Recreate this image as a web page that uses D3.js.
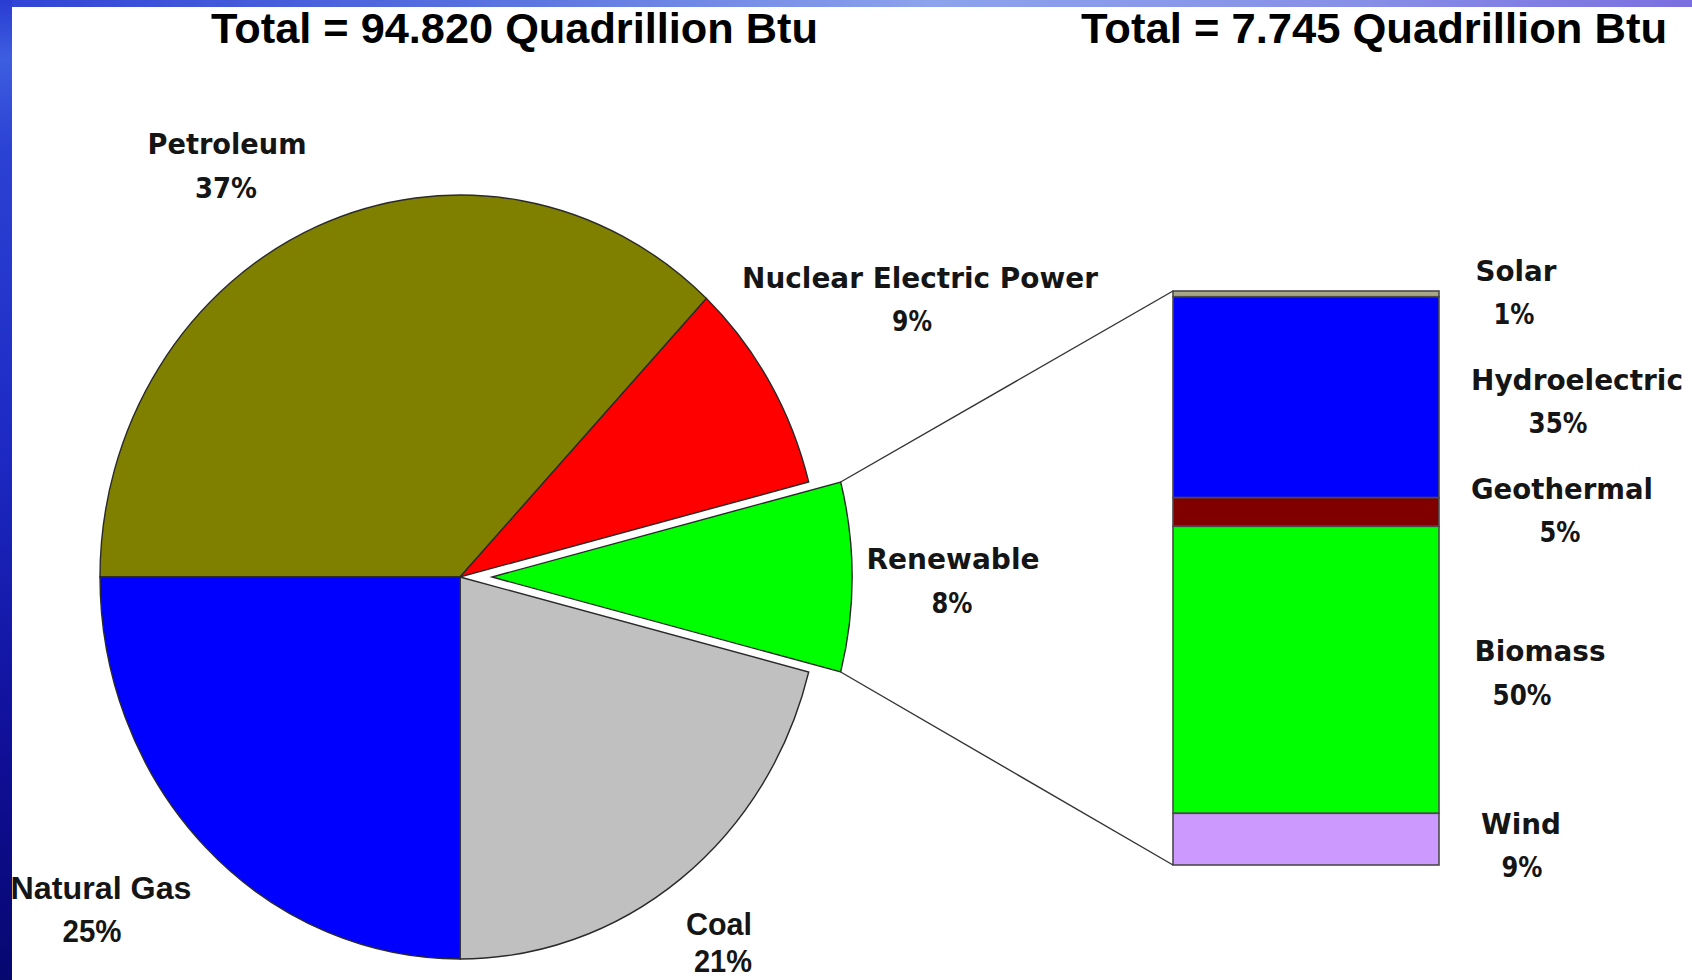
<!DOCTYPE html>
<html><head><meta charset="utf-8">
<script src="https://cdn.jsdelivr.net/npm/d3@7"></script>
<style>html,body{margin:0;padding:0;background:#fff;overflow:hidden}</style>
</head><body>
<svg id="c" width="1692" height="980"></svg>
<script>
// ---- data ----
const energySources = ["Petroleum", "Nuclear Electric Power", "Renewable", "Coal", "Natural Gas"];
const energyShares = [37, 9, 8, 21, 25];
const energyColors = ["#808000", "#ff0000", "#00ff00", "#c0c0c0", "#0000ff"];
const renewableSources = ["Solar", "Hydroelectric", "Geothermal", "Biomass", "Wind"];
const renewableShares = [1, 35, 5, 50, 9];
const renewableColors = ["#a8a888", "#0000ff", "#800000", "#00ff00", "#cc99ff"];
const titles = ["Total = 94.820 Quadrillion Btu", "Total = 7.745 Quadrillion Btu"];

// ---- layout (positions only) ----
const pieLabelPos = [
  {x: 227, y: 154, w: 159, px: 226, py: 198, pw: 62, narrow: false},
  {x: 920, y: 288, w: 356, px: 912, py: 331, pw: 40, narrow: false},
  {x: 953, y: 569, w: 173, px: 952, py: 613, pw: 41, narrow: false},
  {x: 719, y: 935, w: 66, px: 723, py: 972, pw: 58, narrow: true},
  {x: 101, y: 899, w: 181, px: 92, py: 942, pw: 59, narrow: true}
];
const barLabelPos = [
  {x: 1516, y: 281, w: 81, px: 1514, py: 324, pw: 41},
  {x: 1577, y: 390, w: 212, px: 1558, py: 433, pw: 59},
  {x: 1562, y: 499, w: 182, px: 1560, py: 542, pw: 41},
  {x: 1540, y: 661, w: 131, px: 1522, py: 705, pw: 59},
  {x: 1521, y: 834, w: 80, px: 1522, py: 877, pw: 41}
];

const svg = d3.select("#c");
const W = 1692, H = 980;

// ---- frame background ----
const defs = svg.append("defs");
const gTop = defs.append("linearGradient").attr("id", "gTop").attr("x1", 0).attr("x2", 1).attr("y1", 0).attr("y2", 0);
[[0, "#3043d6"], [0.3, "#5a74e0"], [0.55, "#8da3ec"], [0.8, "#8790e6"], [1, "#7b6ee0"]]
  .forEach(([o, c]) => gTop.append("stop").attr("offset", o).attr("stop-color", c));
const gLeft = defs.append("linearGradient").attr("id", "gLeft").attr("x1", 0).attr("x2", 0).attr("y1", 0).attr("y2", 1);
[[0, "#2a3cd2"], [0.06, "#3d5ee0"], [0.15, "#2c42d4"], [0.45, "#1d2ac4"], [0.75, "#10109a"], [1, "#070770"]]
  .forEach(([o, c]) => gLeft.append("stop").attr("offset", o).attr("stop-color", c));
svg.append("rect").attr("x", 0).attr("y", 0).attr("width", W).attr("height", H).attr("fill", "#ffffff");

// ---- titles ----
const titleX = [211, 1081];
const titleW = [607, 586];
svg.selectAll("text.title").data(titles).join("text")
  .attr("class", "title")
  .attr("x", (d, i) => titleX[i]).attr("y", 43)
  .attr("textLength", (d, i) => titleW[i]).attr("lengthAdjust", "spacingAndGlyphs")
  .attr("font-family", "'Liberation Sans', Arial, sans-serif")
  .attr("font-weight", "bold").attr("font-size", 43).attr("fill", "#000")
  .text(d => d);

// ---- pie ----
const cx = 460, cy = 577, R = 360, ky = 382 / 360, explode = 32;
const pie = d3.pie().sort(null).startAngle(-Math.PI / 2).endAngle(3 * Math.PI / 2);
const arcs = pie(energyShares);
const arc = d3.arc().innerRadius(0).outerRadius(R);
const pieG = svg.append("g").attr("transform", `translate(${cx},${cy}) scale(1,${ky})`);
const offset = (d, i) => {
  if (energySources[i] !== "Renewable") return [0, 0];
  const m = (d.startAngle + d.endAngle) / 2;
  return [Math.sin(m) * explode, -Math.cos(m) * explode];
};
pieG.selectAll("path").data(arcs).join("path")
  .attr("transform", (d, i) => { const o = offset(d, i); return `translate(${o[0]},${o[1]})`; })
  .attr("d", arc)
  .attr("fill", (d, i) => energyColors[i])
  .attr("stroke", "#2a2a2a").attr("stroke-width", 1.4)
  .attr("vector-effect", "non-scaling-stroke");

// ---- bar ----
const barX = 1173, barW = 266;
const yScale = d3.scaleLinear().domain([0, d3.sum(renewableShares)]).range([291, 865]);
const cum = d3.cumsum(renewableShares);
const segs = renewableShares.map((v, i) => ({v, y0: cum[i] - v, y1: cum[i], i}));
svg.append("g").selectAll("rect").data(segs).join("rect")
  .attr("x", barX).attr("width", barW)
  .attr("y", d => yScale(d.y0)).attr("height", d => yScale(d.y1) - yScale(d.y0))
  .attr("fill", d => renewableColors[d.i])
  .attr("stroke", "#4a4a4a").attr("stroke-width", 1.6);

// ---- connectors ----
const ri = energySources.indexOf("Renewable");
const ra = arcs[ri], ro = offset(ra, ri);
const corner = a => [cx + ro[0] + R * Math.sin(a), cy + (ro[1] - R * Math.cos(a)) * ky];
const cTop = corner(ra.startAngle), cBot = corner(ra.endAngle);
svg.append("line").attr("x1", cTop[0]).attr("y1", cTop[1]).attr("x2", barX).attr("y2", yScale(0))
  .attr("stroke", "#333").attr("stroke-width", 1.4);
svg.append("line").attr("x1", cBot[0]).attr("y1", cBot[1]).attr("x2", barX).attr("y2", yScale(d3.sum(renewableShares)))
  .attr("stroke", "#333").attr("stroke-width", 1.4);

// ---- labels ----
function addLabel(name, pct, p, narrow) {
  const fam = narrow ? "'Liberation Sans', Arial, sans-serif" : "'DejaVu Sans', Verdana, sans-serif";
  const fs = narrow ? 32 : 28;
  const g = svg.append("g").attr("font-family", fam).attr("font-weight", "bold")
    .attr("font-size", fs).attr("fill", "#151515").attr("text-anchor", "middle");
  g.append("text").attr("x", p.x).attr("y", p.y)
    .attr("textLength", p.w).attr("lengthAdjust", "spacingAndGlyphs").text(name);
  g.append("text").attr("x", p.px).attr("y", p.py)
    .attr("textLength", p.pw).attr("lengthAdjust", "spacingAndGlyphs").text(pct + "%");
}
energySources.forEach((n, i) => addLabel(n, energyShares[i], pieLabelPos[i], pieLabelPos[i].narrow));
renewableSources.forEach((n, i) => addLabel(n, renewableShares[i], barLabelPos[i], false));

// ---- frame strips on top ----
svg.append("rect").attr("x", 0).attr("y", 0).attr("width", W).attr("height", 7).attr("fill", "url(#gTop)");
svg.append("rect").attr("x", 0).attr("y", 0).attr("width", 12).attr("height", H).attr("fill", "url(#gLeft)");
</script>
</body></html>
